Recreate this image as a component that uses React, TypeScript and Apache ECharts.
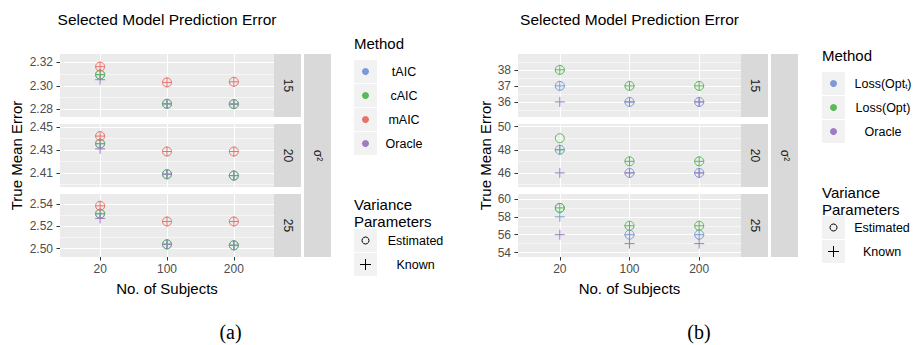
import React, { useEffect, useRef } from "react";
import * as echarts from "echarts";

// ---------- data ----------
const subjects = ["20", "100", "200"];
const sigma2Levels = ["15", "20", "25"];

// Figure (a)
const aMethods = ["tAIC", "cAIC", "mAIC", "Oracle"];
const aColors = ["#7B9AD6", "#5CB85C", "#E5736C", "#9E7CC1"];
// [panel sigma2=15, 20, 25][subjects 20, 100, 200]
const aTAICEstimated = [[2.3095, 2.2847, 2.2845], [2.4356, 2.4089, 2.4077], [2.5315, 2.5039, 2.503]];
const aTAICKnown = [[2.3095, 2.2847, 2.2845], [2.4356, 2.4089, 2.4077], [2.5315, 2.5039, 2.503]];
const aCAICEstimated = [[2.3097, 2.2847, 2.2845], [2.4357, 2.4089, 2.4077], [2.5316, 2.5039, 2.503]];
const aCAICKnown = [[2.3097, 2.2847, 2.2845], [2.4357, 2.4089, 2.4077], [2.5316, 2.5039, 2.503]];
const aMAICEstimated = [[2.3164, 2.303, 2.3035], [2.4423, 2.4288, 2.4288], [2.5387, 2.5245, 2.5245]];
const aMAICKnown = [[2.3164, 2.303, 2.3035], [2.4423, 2.4288, 2.4288], [2.5387, 2.5245, 2.5245]];
const aOracleKnown = [[2.3053, 2.2847, 2.2845], [2.4311, 2.4089, 2.4077], [2.5273, 2.5039, 2.503]];
const aYMin = [2.2735, 2.3977, 2.4924];
const aYMax = [2.3272, 2.4529, 2.5494];
const aYTicks = [[2.28, 2.3, 2.32], [2.41, 2.43, 2.45], [2.5, 2.52, 2.54]];
const aYMinor = [[2.29, 2.31], [2.4, 2.42, 2.44], [2.51, 2.53]];

// Figure (b)
const bMethods = ["Loss(Opt_t)", "Loss(Opt)", "Oracle"];
const bColors = ["#7B9AD6", "#5CB85C", "#9E7CC1"];
const bOptTEstimated = [[37, 36, 36], [48, 46, 46], [59, 56, 56]];
const bOptTKnown = [[37, 36, 36], [48, 46, 46], [58, 56, 56]];
const bOptEstimated = [[38, 37, 37], [49, 47, 47], [59, 57, 57]];
const bOptKnown = [[38, 37, 37], [48, 47, 47], [59, 57, 57]];
const bOracleKnown = [[36, 36, 36], [46, 46, 46], [56, 55, 55]];
const bYMin = [35.06, 44.78, 53.5];
const bYMax = [38.99, 50.23, 60.56];
const bYTicks = [[36, 37, 38], [46, 48, 50], [54, 56, 58, 60]];
const bYMinor = [[35.5, 36.5, 37.5, 38.5], [45, 47, 49], [55, 57, 59]];

const titleText = "Selected Model Prediction Error";
const xTitle = "No. of Subjects";
const yTitle = "True Mean Error";
const varianceLabels = ["Estimated", "Known"];

// ---------- layout ----------
const FONT = "Liberation Sans, Arial, Helvetica, sans-serif";
const PANEL_TOPS = [54, 124, 194];
const PANEL_H = 63;
const PLUS = "path://M5 0V10M0 5H10";

type Fig = {
  left: number;
  width: number;
  yMin: number[];
  yMax: number[];
  ticks: number[][];
  minor: number[][];
  digits: number;
  series: { color: string; est: (number | null)[][] | null; known: (number | null)[][] | null }[];
};

const figs: Fig[] = [
  {
    left: 60,
    width: 214,
    yMin: aYMin,
    yMax: aYMax,
    ticks: aYTicks,
    minor: aYMinor,
    digits: 2,
    series: [
      { color: aColors[0], est: aTAICEstimated, known: aTAICKnown },
      { color: aColors[1], est: aCAICEstimated, known: aCAICKnown },
      { color: aColors[2], est: aMAICEstimated, known: aMAICKnown },
      { color: aColors[3], est: null, known: aOracleKnown },
    ],
  },
  {
    left: 518,
    width: 223,
    yMin: bYMin,
    yMax: bYMax,
    ticks: bYTicks,
    minor: bYMinor,
    digits: 0,
    series: [
      { color: bColors[0], est: bOptTEstimated, known: bOptTKnown },
      { color: bColors[1], est: bOptEstimated, known: bOptKnown },
      { color: bColors[2], est: null, known: bOracleKnown },
    ],
  },
];

function buildOption() {
  const grid: any[] = [];
  const xAxis: any[] = [];
  const yAxis: any[] = [];
  const series: any[] = [];
  const graphic: any[] = [];

  figs.forEach((f, fi) => {
    PANEL_TOPS.forEach((top, p) => {
      const g = fi * 3 + p;
      grid.push({
        left: f.left,
        top,
        width: f.width,
        height: PANEL_H,
        show: true,
        backgroundColor: "#ebebeb",
        borderWidth: 0,
      });
      const bottom = p === 2;
      xAxis.push({
        type: "value",
        gridIndex: g,
        min: 0.4,
        max: 3.6,
        axisLine: { show: false },
        axisTick: { show: bottom, length: 3.5, lineStyle: { color: "#333333", width: 1 }, customValues: [1, 2, 3] },
        axisLabel: {
          show: bottom,
          customValues: [1, 2, 3],
          formatter: (v: number) => subjects[Math.round(v) - 1] ?? "",
          color: "#4d4d4d",
          fontSize: 12,
          fontFamily: FONT,
          margin: 6,
        },
        splitLine: { show: true, lineStyle: { color: "#ffffff", width: 1.1 } },
      });
      // minor grid axis
      yAxis.push({
        type: "value",
        gridIndex: g,
        min: f.yMin[p],
        max: f.yMax[p],
        position: "left",
        axisLine: { show: false },
        axisTick: { show: false, customValues: f.minor[p] },
        axisLabel: { show: false, customValues: f.minor[p] },
        splitLine: { show: true, lineStyle: { color: "#ffffff", width: 0.55 } },
      });
      // major axis
      yAxis.push({
        type: "value",
        gridIndex: g,
        min: f.yMin[p],
        max: f.yMax[p],
        position: "left",
        axisLine: { show: false },
        axisTick: { show: true, length: 3.5, lineStyle: { color: "#333333", width: 1 }, customValues: f.ticks[p] },
        axisLabel: {
          customValues: f.ticks[p],
          formatter: (v: number) => v.toFixed(f.digits),
          color: "#4d4d4d",
          fontSize: 12,
          fontFamily: FONT,
          margin: 7,
        },
        splitLine: { show: true, lineStyle: { color: "#ffffff", width: 1.1 } },
      });
      const yIdx = 2 * g + 1;
      f.series.forEach((s) => {
        const mk = (vals: (number | null)[] | undefined, shape: "o" | "+") => {
          if (!vals) return;
          series.push({
            type: "scatter",
            xAxisIndex: g,
            yAxisIndex: yIdx,
            symbol: shape === "o" ? "circle" : PLUS,
            symbolSize: shape === "o" ? 9 : 10,
            silent: true,
            itemStyle: { color: "none", borderColor: s.color, borderWidth: 1, opacity: 1 },
            emphasis: { disabled: true },
            data: vals.map((v, i) => (v == null ? [i + 1, "-"] : [i + 1, v])),
          });
        };
        mk(s.est ? s.est[p] : undefined, "o");
        mk(s.known ? s.known[p] : undefined, "+");
      });

      // strip
      const stripX = f.left + f.width;
      graphic.push({
        type: "rect",
        shape: { x: stripX, y: top, width: 27, height: PANEL_H },
        style: { fill: "#d9d9d9" },
        silent: true,
      });
      graphic.push({
        type: "text",
        x: stripX + 13.5,
        y: top + PANEL_H / 2,
        rotation: -Math.PI / 2,
        style: {
          text: sigma2Levels[p],
          fill: "#1a1a1a",
          fontSize: 12,
          fontFamily: FONT,
          align: "center",
          verticalAlign: "middle",
        },
        silent: true,
      });
    });

    const outerX = f.left + f.width + 30;
    const totalTop = PANEL_TOPS[0];
    const totalH = PANEL_TOPS[2] + PANEL_H - PANEL_TOPS[0];
    graphic.push({
      type: "rect",
      shape: { x: outerX, y: totalTop, width: 27, height: totalH },
      style: { fill: "#d9d9d9" },
      silent: true,
    });
    graphic.push({
      type: "text",
      x: outerX + 13.5,
      y: totalTop + totalH / 2,
      rotation: -Math.PI / 2,
      style: {
        text: "σ²",
        fill: "#1a1a1a",
        fontSize: 12,
        fontFamily: FONT,
        align: "center",
        verticalAlign: "middle",
      },
      silent: true,
    });
    const cx = f.left + f.width / 2;
    graphic.push({
      type: "text",
      x: cx,
      y: 19,
      style: { text: titleText, fill: "#000", fontSize: 15.5, fontFamily: FONT, align: "center", verticalAlign: "middle" },
      silent: true,
    });
    graphic.push({
      type: "text",
      x: cx,
      y: 288,
      style: { text: xTitle, fill: "#000", fontSize: 15, fontFamily: FONT, align: "center", verticalAlign: "middle" },
      silent: true,
    });
    graphic.push({
      type: "text",
      x: fi === 0 ? 16 : 485,
      y: totalTop + totalH / 2,
      rotation: Math.PI / 2,
      style: { text: yTitle, fill: "#000", fontSize: 15, fontFamily: FONT, align: "center", verticalAlign: "middle" },
      silent: true,
    });
    graphic.push({
      type: "text",
      x: fi === 0 ? 230.5 : 699,
      y: 332,
      style: {
        text: fi === 0 ? "(a)" : "(b)",
        fill: "#000",
        fontSize: 20,
        fontFamily: "Liberation Serif, DejaVu Serif, serif",
        align: "center",
        verticalAlign: "middle",
      },
      silent: true,
    });
  });

  // legends
  const legends = [
    {
      x0: 354,
      titleY: 43,
      top: 60,
      labelCx: 404,
      methods: aMethods,
      colors: aColors,
      varTitleY: 196,
      varTop: 229,
      varCx: 415.5,
    },
    {
      x0: 822,
      titleY: 55.7,
      top: 72,
      labelCx: 883,
      methods: bMethods,
      colors: bColors,
      varTitleY: 184,
      varTop: 216,
      varCx: 882,
    },
  ];
  legends.forEach((L) => {
    graphic.push({
      type: "text",
      x: L.x0,
      y: L.titleY,
      style: { text: "Method", fill: "#000", fontSize: 15, fontFamily: FONT, align: "left", verticalAlign: "middle" },
      silent: true,
    });
    L.methods.forEach((m, i) => {
      const y = L.top + i * 24;
      graphic.push({
        type: "rect",
        shape: { x: L.x0, y, width: 23, height: 23 },
        style: { fill: "#f2f2f2" },
        silent: true,
      });
      graphic.push({
        type: "circle",
        shape: { cx: L.x0 + 11.5, cy: y + 11.5, r: 3.5 },
        style: { fill: L.colors[i] },
        silent: true,
      });
      const isSub = m.endsWith("_t)");
      graphic.push({
        type: "text",
        x: L.labelCx,
        y: y + 11.5,
        style: isSub
          ? {
              text: "{a|Loss(Opt}{s|t}{a|)}",
              rich: {
                a: { fontSize: 12.5, fontFamily: FONT, fill: "#000", verticalAlign: "middle" },
                s: { fontSize: 7.5, fontFamily: FONT, fill: "#000", verticalAlign: "bottom", padding: [6, 0, 0, 0] },
              },
              align: "center",
              verticalAlign: "middle",
            }
          : { text: m, fill: "#000", fontSize: 12.5, fontFamily: FONT, align: "center", verticalAlign: "middle" },
        silent: true,
      });
    });
    graphic.push({
      type: "text",
      x: L.x0,
      y: L.varTitleY,
      style: {
        text: "Variance\nParameters",
        fill: "#000",
        fontSize: 15,
        lineHeight: 17,
        fontFamily: FONT,
        align: "left",
        verticalAlign: "top",
      },
      silent: true,
    });
    varianceLabels.forEach((lab, i) => {
      const y = L.varTop + i * 24;
      const cx = L.x0 + 11.5;
      const cy = y + 11.5;
      graphic.push({
        type: "rect",
        shape: { x: L.x0, y, width: 23, height: 23 },
        style: { fill: "#f2f2f2" },
        silent: true,
      });
      if (i === 0) {
        graphic.push({
          type: "circle",
          shape: { cx, cy, r: 3.5 },
          style: { fill: "none", stroke: "#000", lineWidth: 1 },
          silent: true,
        });
      } else {
        graphic.push({
          type: "line",
          shape: { x1: cx - 5.5, y1: cy, x2: cx + 5.5, y2: cy },
          style: { stroke: "#000", lineWidth: 1 },
          silent: true,
        });
        graphic.push({
          type: "line",
          shape: { x1: cx, y1: cy - 5.5, x2: cx, y2: cy + 5.5 },
          style: { stroke: "#000", lineWidth: 1 },
          silent: true,
        });
      }
      graphic.push({
        type: "text",
        x: L.varCx,
        y: cy,
        style: { text: lab, fill: "#000", fontSize: 12.5, fontFamily: FONT, align: "center", verticalAlign: "middle" },
        silent: true,
      });
    });
  });

  return {
    animation: false,
    backgroundColor: "#ffffff",
    grid,
    xAxis,
    yAxis,
    series,
    graphic,
  };
}

export default function App() {
  const ref = useRef<HTMLDivElement>(null);
  useEffect(() => {
    if (!ref.current) return;
    const chart = echarts.init(ref.current, undefined, { renderer: "svg", width: 913, height: 345 });
    chart.setOption(buildOption() as any);
    return () => chart.dispose();
  }, []);
  return (
    <div
      ref={ref}
      style={{ position: "absolute", left: 0, top: 0, width: 913, height: 345, background: "#fff" }}
    />
  );
}
